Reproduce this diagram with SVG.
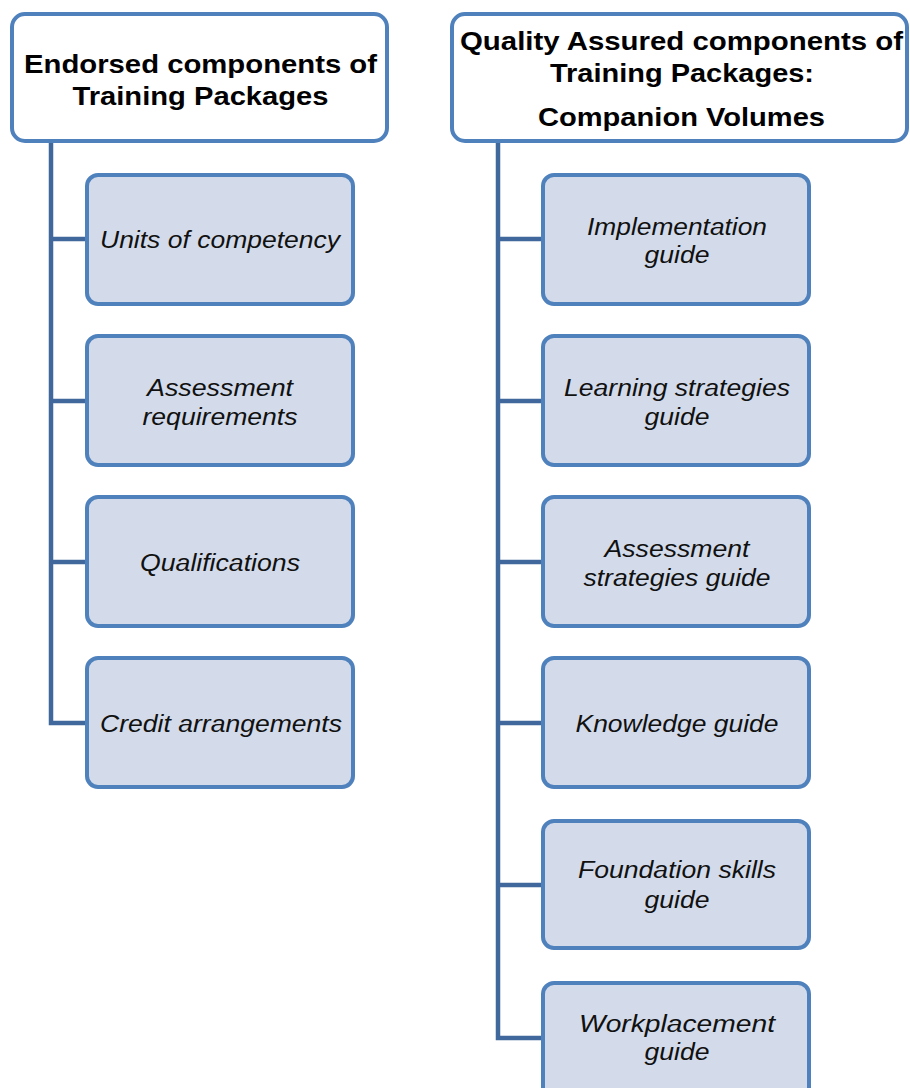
<svg xmlns="http://www.w3.org/2000/svg" width="910" height="1088" viewBox="0 0 910 1088">
<style>
.hdr{fill:#ffffff;stroke:#4f81bd;stroke-width:4}
.box{fill:#d3dbea;stroke:#4f81bd;stroke-width:4}
.h{font-family:"Liberation Sans",Arial,sans-serif;font-weight:bold;font-size:25px;fill:#000;text-anchor:middle}
.t{font-family:"Liberation Sans",Arial,sans-serif;font-style:italic;font-size:23px;fill:#111;text-anchor:middle}
.con{fill:none;stroke:#41689c;stroke-width:4.5}
</style>
<rect width="910" height="1088" fill="#ffffff"/>
<g id="connectors">
<path class="con" d="M51 141V723H87M51 239H87M51 401H87M51 562H87"/>
<path class="con" d="M498 141V1038H543M498 239H543M498 401H543M498 562H543M498 723H543M498 885H543"/>
</g>
<g id="hdr-left">
<rect class="hdr" x="12" y="14" width="375" height="127" rx="13"/>
<text class="h" x="200.5" y="73" textLength="353" lengthAdjust="spacingAndGlyphs">Endorsed components of</text>
<text class="h" x="200.5" y="105" textLength="256" lengthAdjust="spacingAndGlyphs">Training Packages</text>
</g>
<g id="hdr-right">
<rect class="hdr" x="452" y="14" width="455" height="127" rx="13"/>
<text class="h" x="681.5" y="50" textLength="443" lengthAdjust="spacingAndGlyphs">Quality Assured components of</text>
<text class="h" x="682" y="82" textLength="264" lengthAdjust="spacingAndGlyphs">Training Packages:</text>
<text class="h" x="681.5" y="126" textLength="287" lengthAdjust="spacingAndGlyphs">Companion Volumes</text>
</g>
<g id="units">
<rect class="box" x="87" y="175" width="266" height="129" rx="11"/>
<text class="t" x="220" y="248" textLength="240" lengthAdjust="spacingAndGlyphs">Units of competency</text>
</g>
<g id="assessreq">
<rect class="box" x="87" y="336" width="266" height="129" rx="11"/>
<text class="t" x="220" y="396" textLength="146" lengthAdjust="spacingAndGlyphs">Assessment</text>
<text class="t" x="220" y="425" textLength="155" lengthAdjust="spacingAndGlyphs">requirements</text>
</g>
<g id="quals">
<rect class="box" x="87" y="497" width="266" height="129" rx="11"/>
<text class="t" x="220" y="571" textLength="160" lengthAdjust="spacingAndGlyphs">Qualifications</text>
</g>
<g id="credit">
<rect class="box" x="87" y="658" width="266" height="129" rx="11"/>
<text class="t" x="221" y="732" textLength="242" lengthAdjust="spacingAndGlyphs">Credit arrangements</text>
</g>
<g id="impl">
<rect class="box" x="543" y="175" width="266" height="129" rx="11"/>
<text class="t" x="677" y="235" textLength="180" lengthAdjust="spacingAndGlyphs">Implementation</text>
<text class="t" x="677" y="263" textLength="65" lengthAdjust="spacingAndGlyphs">guide</text>
</g>
<g id="learn">
<rect class="box" x="543" y="336" width="266" height="129" rx="11"/>
<text class="t" x="677" y="396" textLength="226" lengthAdjust="spacingAndGlyphs">Learning strategies</text>
<text class="t" x="677" y="425" textLength="65" lengthAdjust="spacingAndGlyphs">guide</text>
</g>
<g id="assessstrat">
<rect class="box" x="543" y="497" width="266" height="129" rx="11"/>
<text class="t" x="677" y="557" textLength="145" lengthAdjust="spacingAndGlyphs">Assessment</text>
<text class="t" x="677" y="586" textLength="187" lengthAdjust="spacingAndGlyphs">strategies guide</text>
</g>
<g id="knowledge">
<rect class="box" x="543" y="658" width="266" height="129" rx="11"/>
<text class="t" x="677" y="732" textLength="203" lengthAdjust="spacingAndGlyphs">Knowledge guide</text>
</g>
<g id="foundation">
<rect class="box" x="543" y="821" width="266" height="127" rx="11"/>
<text class="t" x="677" y="878" textLength="198" lengthAdjust="spacingAndGlyphs">Foundation skills</text>
<text class="t" x="677" y="908" textLength="65" lengthAdjust="spacingAndGlyphs">guide</text>
</g>
<g id="workplacement">
<rect class="box" x="543" y="983" width="266" height="129" rx="11"/>
<text class="t" x="677" y="1032" textLength="196" lengthAdjust="spacingAndGlyphs">Workplacement</text>
<text class="t" x="677" y="1060" textLength="65" lengthAdjust="spacingAndGlyphs">guide</text>
</g>
</svg>
